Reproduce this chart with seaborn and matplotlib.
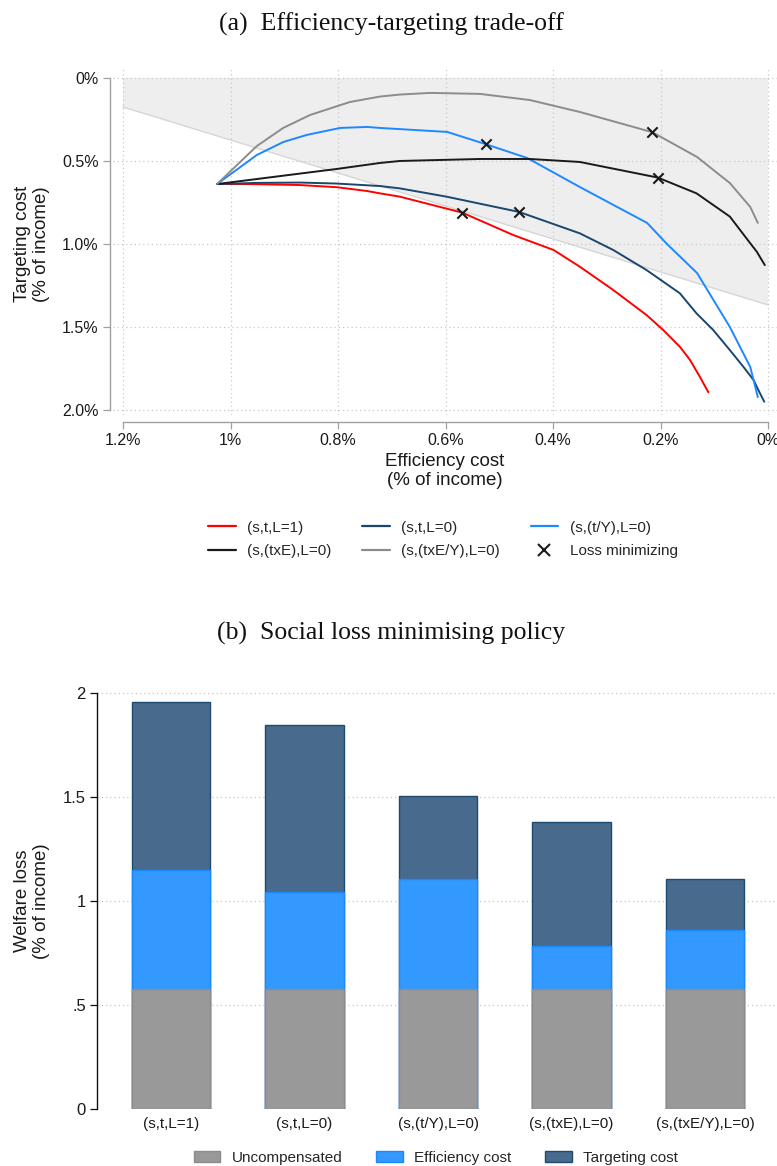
import numpy as np
import pandas as pd
import matplotlib
matplotlib.use("Agg")
import matplotlib.pyplot as plt
import seaborn as sns
from matplotlib.lines import Line2D
from matplotlib.patches import Patch

# ---------------- data ----------------
series_names = ["(s,t,L=1)", "(s,t,L=0)", "(s,(t/Y),L=0)", "(s,(txE),L=0)", "(s,(txE/Y),L=0)"]

# efficiency cost (x) and targeting cost (y) along each policy frontier, % of income
eff_st_L1 = [1.025, 0.964, 0.871, 0.802, 0.746, 0.722, 0.685, 0.569, 0.474, 0.399, 0.350,
             0.288, 0.226, 0.195, 0.164, 0.145, 0.127, 0.111]
tc_st_L1 = [0.639, 0.639, 0.645, 0.658, 0.681, 0.695, 0.715, 0.811, 0.946, 1.036, 1.137,
            1.277, 1.428, 1.518, 1.619, 1.699, 1.799, 1.893]

eff_st_L0 = [1.025, 0.950, 0.871, 0.802, 0.722, 0.685, 0.598, 0.463, 0.350, 0.288, 0.226,
             0.164, 0.133, 0.102, 0.071, 0.046, 0.027, 0.015, 0.007]
tc_st_L0 = [0.639, 0.632, 0.630, 0.636, 0.651, 0.665, 0.715, 0.807, 0.936, 1.036, 1.157,
            1.297, 1.418, 1.518, 1.639, 1.739, 1.819, 1.899, 1.950]

eff_stY_L0 = [1.025, 0.951, 0.902, 0.858, 0.796, 0.746, 0.722, 0.597, 0.525, 0.448, 0.350,
              0.225, 0.188, 0.132, 0.071, 0.033, 0.019]
tc_stY_L0 = [0.639, 0.464, 0.386, 0.343, 0.301, 0.295, 0.301, 0.325, 0.399, 0.482, 0.657,
             0.873, 1.000, 1.175, 1.500, 1.741, 1.922]

eff_stxE_L0 = [1.025, 0.871, 0.802, 0.722, 0.685, 0.536, 0.443, 0.350, 0.205, 0.133, 0.071,
               0.033, 0.021, 0.006]
tc_stxE_L0 = [0.639, 0.576, 0.548, 0.512, 0.500, 0.488, 0.488, 0.506, 0.600, 0.695, 0.835,
              0.996, 1.046, 1.127]

eff_stxEY_L0 = [1.025, 0.951, 0.902, 0.852, 0.778, 0.722, 0.685, 0.629, 0.536, 0.443, 0.350,
                0.215, 0.132, 0.071, 0.033, 0.019]
tc_stxEY_L0 = [0.639, 0.410, 0.301, 0.223, 0.145, 0.112, 0.100, 0.090, 0.096, 0.133, 0.205,
               0.327, 0.476, 0.633, 0.777, 0.873]

# loss-minimising point on each frontier
opt_eff = [0.569, 0.463, 0.525, 0.205, 0.215]
opt_tc = [0.811, 0.807, 0.399, 0.600, 0.327]

# region of lower social loss than the uniform benchmark
shade_eff = [1.2, 1.2, 0.0, 0.0]
shade_tc = [0.0, 0.175, 1.367, 0.0]

x_ticks = [1.2, 1.0, 0.8, 0.6, 0.4, 0.2, 0.0]
x_ticklabels = ["1.2%", "1%", "0.8%", "0.6%", "0.4%", "0.2%", "0%"]
y_ticks = [0.0, 0.5, 1.0, 1.5, 2.0]
y_ticklabels = ["0%", "0.5%", "1.0%", "1.5%", "2.0%"]

# welfare loss decomposition at the loss-minimising policy (% of income)
uncompensated = [0.577, 0.577, 0.577, 0.577, 0.577]
efficiency = [0.572, 0.466, 0.529, 0.207, 0.284]
targeting = [0.808, 0.803, 0.399, 0.596, 0.245]
bar_yticks = [0, 0.5, 1, 1.5, 2]
bar_yticklabels = ["0", ".5", "1", "1.5", "2"]

# ---------------- style ----------------
sns.set_theme(style="white")
plt.rcParams["font.family"] = ["Liberation Sans", "DejaVu Sans"]
plt.rcParams["axes.unicode_minus"] = False

line_colors = ["#ff0000", "#1a476f", "#1e88ff", "#1a1a1a", "#8c8c8c"]
grid_kw = dict(color="#c8c8c8", linestyle=(0, (1, 2.4)), linewidth=0.9)

W, H = 777, 1166
fig = plt.figure(figsize=(W / 100, H / 100), dpi=100)


def fx(px):
    return px / W


def fy(py):
    return 1 - py / H


# ---------------- panel (a) ----------------
ax1 = fig.add_axes([fx(113), fy(415), fx(777 - 113), (415 - 68) / H])

curves = [(eff_st_L1, tc_st_L1), (eff_st_L0, tc_st_L0), (eff_stY_L0, tc_stY_L0),
          (eff_stxE_L0, tc_stxE_L0), (eff_stxEY_L0, tc_stxEY_L0)]
frames = []
for name, (ex, ty) in zip(series_names, curves):
    frames.append(pd.DataFrame({"eff": ex, "tc": ty, "series": name}))
frontier = pd.concat(frames, ignore_index=True)

ax1.fill(shade_eff, shade_tc, facecolor="#eeeeee", edgecolor="none", zorder=0.8)
ax1.plot(shade_eff[1:3], shade_tc[1:3], color="#d6d6d6", lw=1.0, zorder=0.9)

sns.lineplot(data=frontier, x="eff", y="tc", hue="series", hue_order=series_names,
             palette=line_colors, sort=False, estimator=None, linewidth=1.4,
             legend=False, ax=ax1, zorder=3)
sns.scatterplot(x=opt_eff, y=opt_tc, marker="x", color="#1a1a1a", s=55,
                linewidth=1.5, ax=ax1, zorder=4)

ax1.set_xlim(1.2186, -0.0167)
ax1.set_ylim(2.030, -0.060)
ax1.set_xticks(x_ticks)
ax1.set_xticklabels(x_ticklabels)
ax1.set_yticks(y_ticks)
ax1.set_yticklabels(y_ticklabels)
ax1.set_axisbelow("line")
ax1.grid(True, **grid_kw)
for s in ["top", "right"]:
    ax1.spines[s].set_visible(False)
ax1.spines["left"].set_position(("outward", 2.2))
ax1.spines["left"].set_bounds(0, 2)
ax1.spines["bottom"].set_position(("outward", 5))
ax1.spines["bottom"].set_bounds(0, 1.2)
for s in ["left", "bottom"]:
    ax1.spines[s].set_color("#a0a0a0")
    ax1.spines[s].set_linewidth(1.0)
ax1.tick_params(axis="both", which="major", length=5, width=0.9, color="#a0a0a0",
                labelsize=11.5, labelcolor="#1a1a1a", pad=3, left=True, bottom=True)

ax1.set_xlabel("Efficiency cost\n(% of income)", fontsize=13.5, linespacing=1.15,
               color="#1a1a1a")
ax1.xaxis.set_label_coords(fx(445), fy(453), transform=fig.transFigure)
ax1.set_ylabel("Targeting cost\n(% of income)", fontsize=13.5, linespacing=1.15,
               color="#1a1a1a")
ax1.yaxis.set_label_coords(fx(50), fy(244), transform=fig.transFigure)

handles = [Line2D([], [], color=c, lw=1.6) for c in line_colors]
handles.append(Line2D([], [], color="#1a1a1a", marker="x", linestyle="none",
                      markersize=8, markeredgewidth=1.5))
labels = series_names + ["Loss minimizing"]
order = [0, 3, 1, 4, 2, 5]
fig.legend([handles[i] for i in order], [labels[i] for i in order], ncol=3,
           loc="center", bbox_to_anchor=(fx(443), fy(539.5)), frameon=False,
           fontsize=11, handlelength=1.8, handletextpad=0.75, columnspacing=2.0,
           labelspacing=0.62)

fig.text(fx(391), fy(24.5), "(a)  Efficiency-targeting trade-off", ha="center",
         va="center", fontsize=18.5, family=["Liberation Serif", "DejaVu Serif"],
         color="#111111")

# ---------------- panel (b) ----------------
ax2 = fig.add_axes([fx(97), fy(1109), fx(777 - 97), (1109 - 683) / H])

total = [u + e + t for u, e, t in zip(uncompensated, efficiency, targeting)]
lower = [u + e for u, e in zip(uncompensated, efficiency)]

sns.barplot(x=series_names, y=total, color="#486b8d", edgecolor="#1f4a70", linewidth=1.0,
            width=0.59, saturation=1, ax=ax2, zorder=2)
sns.barplot(x=series_names, y=lower, color="#3399ff", edgecolor="#1a88ff", linewidth=1.0,
            width=0.59, saturation=1, ax=ax2, zorder=3)
sns.barplot(x=series_names, y=uncompensated, color="#999999", edgecolor="#8c8c8c",
            linewidth=1.0, width=0.59, saturation=1, ax=ax2, zorder=4)

ax2.set_xlim(-0.554, 4.539)
ax2.set_ylim(0, 2.048)
ax2.set_yticks(bar_yticks)
ax2.set_yticklabels(bar_yticklabels)
ax2.yaxis.grid(True, **grid_kw)
ax2.xaxis.grid(False)
ax2.set_axisbelow(True)
for s in ["top", "right", "bottom"]:
    ax2.spines[s].set_visible(False)
ax2.spines["left"].set_bounds(0, 2)
ax2.spines["left"].set_color("#111111")
ax2.spines["left"].set_linewidth(1.0)
ax2.tick_params(axis="y", length=5, width=0.9, color="#111111", labelsize=12,
                labelcolor="#1a1a1a", pad=3, left=True)
ax2.tick_params(axis="x", length=0, labelsize=11, labelcolor="#1a1a1a", pad=6)
ax2.set_xlabel("")
ax2.set_ylabel("Welfare loss\n(% of income)", fontsize=13.5, linespacing=1.15,
               color="#1a1a1a")
ax2.yaxis.set_label_coords(fx(50), fy(901), transform=fig.transFigure)

bar_handles = [Patch(facecolor="#999999", edgecolor="#8c8c8c"),
               Patch(facecolor="#3399ff", edgecolor="#1a88ff"),
               Patch(facecolor="#486b8d", edgecolor="#1f4a70")]
fig.legend(bar_handles, ["Uncompensated", "Efficiency cost", "Targeting cost"], ncol=3,
           loc="center", bbox_to_anchor=(fx(436), fy(1158)), frameon=False, fontsize=11,
           handlelength=1.75, handleheight=0.75, handletextpad=0.75, columnspacing=2.2)

fig.text(fx(391), fy(633), "(b)  Social loss minimising policy", ha="center",
         va="center", fontsize=18.5, family=["Liberation Serif", "DejaVu Serif"],
         color="#111111")

fig.savefig("out.png", dpi=100)
